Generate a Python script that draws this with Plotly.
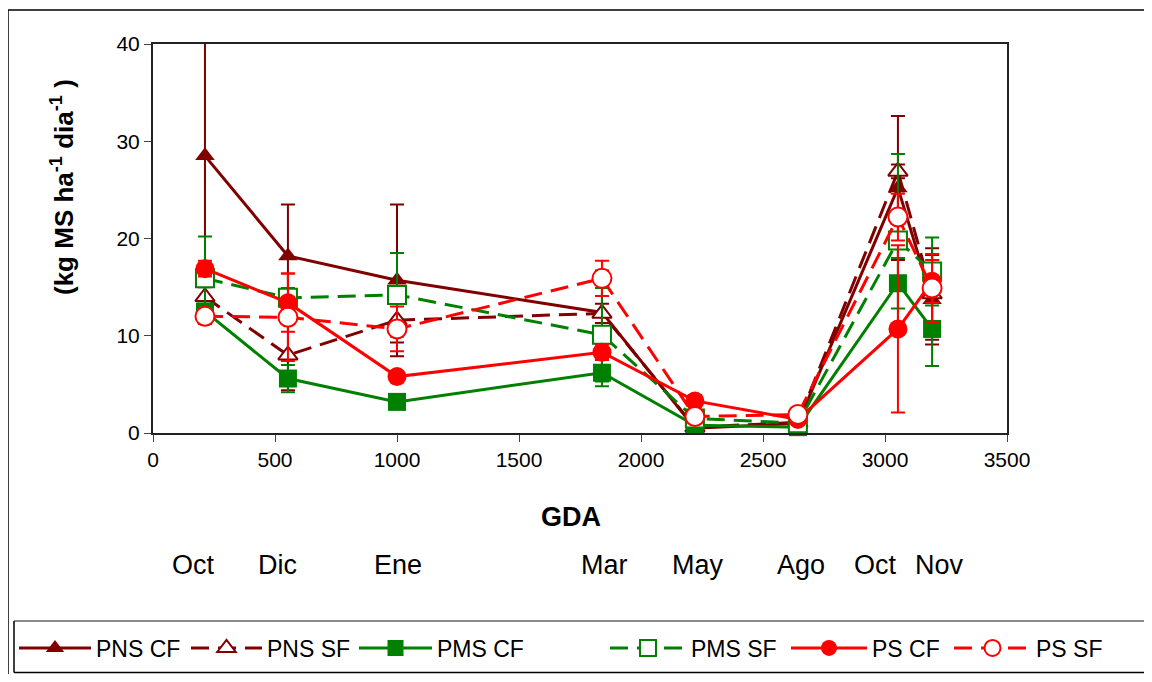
import plotly.graph_objects as go

# ---- data ----
gda = [213, 553, 1000, 1840, 2221, 2643, 3053, 3193]

series_names = ["PNS CF", "PNS SF", "PMS CF", "PMS SF", "PS CF", "PS SF"]
pns_cf = [28.5, 18.2, 15.7, 12.4, 0.5, 1.0, 25.2, 13.7]
pns_sf = [14.0, 8.0, 11.6, 12.3, 0.6, 1.1, 26.9, 14.3]
pms_cf = [12.5, 5.6, 3.2, 6.2, 0.8, 0.6, 15.4, 10.7]
pms_sf = [15.9, 13.9, 14.2, 10.1, 1.5, 1.0, 19.8, 16.6]
ps_cf = [16.9, 13.4, 5.8, 8.3, 3.3, 1.4, 10.7, 15.6]
ps_sf = [12.0, 11.9, 10.7, 15.9, 1.7, 1.9, 22.2, 14.9]

pns_cf_err = [12.1, 5.3, 7.8, 4.3, 0.5, 0.5, 7.4, 4.6]
pns_sf_err = [1.0, 3.6, 2.3, 1.0, 0.4, 0.4, 0.7, 4.7]
pms_cf_err = [0.8, 1.4, 0.4, 1.4, 0.4, 0.3, 2.6, 3.8]
pms_sf_err = [4.3, 1.0, 4.3, 4.8, 0.5, 0.4, 8.9, 3.5]
ps_cf_err = [0.8, 3.0, 0.5, 0.8, 0.6, 0.4, 8.6, 2.2]
ps_sf_err = [0.8, 4.5, 2.3, 1.8, 0.5, 0.4, 2.4, 3.5]

month_labels = ["Oct", "Dic", "Ene", "Mar", "May", "Ago", "Oct", "Nov"]
month_label_x = [164, 512, 1004, 1852, 2234, 2656, 2959, 3225]

x_ticks = [0, 500, 1000, 1500, 2000, 2500, 3000, 3500]
y_ticks = [0, 10, 20, 30, 40]

# ---- styles ----
DARK = "#800000"
GREEN = "#008000"
RED = "#FF0000"
DASH = "18px,9px"

styles = [
    (pns_cf, pns_cf_err, DARK, "solid", "triangle-up", True),
    (pns_sf, pns_sf_err, DARK, DASH, "triangle-up", False),
    (pms_cf, pms_cf_err, GREEN, "solid", "square", True),
    (pms_sf, pms_sf_err, GREEN, DASH, "square", False),
    (ps_cf, ps_cf_err, RED, "solid", "circle", True),
    (ps_sf, ps_sf_err, RED, DASH, "circle", False),
]
marker_sizes = {"triangle-up": 17, "square": 18, "circle": 19}

# legend entry layout (pixel start of each entry and symbol width)
legend_starts = [20, 192, 360, 611, 792, 955]
legend_itemwidths = [72, 71, 73, 76, 76, 77]

legend_ids = ["legend", "legend2", "legend3", "legend4", "legend5", "legend6"]

fig = go.Figure()
for i, (name, (vals, errs, col, dash, sym, filled)) in enumerate(zip(series_names, styles)):
    fig.add_trace(go.Scatter(
        x=gda, y=vals, name=name, mode="lines+markers",
        legend=legend_ids[i],
        line=dict(color=col, width=3, dash=dash),
        marker=dict(symbol=sym, size=marker_sizes[sym],
                    color=col if filled else "white",
                    line=dict(color=col, width=0 if filled else 2)),
        error_y=dict(type="data", array=errs, visible=True,
                     color=col, thickness=2, width=7),
        cliponaxis=False,
    ))

# page body adds an 8px margin on every side; compensate so pixel positions match
OFF = 8
W, H = 1152 - 2 * OFF, 682 - 2 * OFF
L, R, T, B = 153 - OFF, 1007 - OFF, 44 - OFF, 433 - OFF


def px(xp):
    return (xp - OFF - L) / (R - L)


def py(yp):
    return (B - (yp - OFF)) / (B - T)


annotations = [
    dict(text="<b>GDA</b>", x=px(571), y=py(517), xref="paper", yref="paper",
         showarrow=False, font=dict(size=27, family="Liberation Sans Narrow, Arial", color="black"),
         xanchor="center", yanchor="middle"),
    dict(text="<b>(kg MS ha<sup>-1</sup> dia<sup>-1</sup> )</b>", x=px(62), y=py(187),
         xref="paper", yref="paper", showarrow=False, textangle=-90,
         font=dict(size=26, family="Liberation Sans, Arial", color="black"),
         xanchor="center", yanchor="middle"),
]
for lab, lx in zip(month_labels, month_label_x):
    annotations.append(dict(text=lab, x=lx, y=py(565), xref="x", yref="paper",
                            showarrow=False, xanchor="center", yanchor="middle",
                            font=dict(size=27, family="Liberation Sans Narrow, Arial", color="black")))

legend_layout = {}
for lid, start, iw in zip(legend_ids, legend_starts, legend_itemwidths):
    legend_layout[lid] = dict(
        orientation="h", x=px(start - 6), y=py(648), xanchor="left", yanchor="middle",
        borderwidth=0, bgcolor="rgba(0,0,0,0)",
        font=dict(size=23, family="Liberation Sans, Arial", color="black"),
        itemwidth=iw, tracegroupgap=0)

line_style = dict(color="black", width=1.5)
fig.update_layout(
    width=W, height=H,
    margin=dict(l=L, r=W - R, t=T, b=H - B, pad=0, autoexpand=False),
    paper_bgcolor="white", plot_bgcolor="white",
    font=dict(family="Liberation Sans, Arial", color="black"),
    showlegend=True,
    annotations=annotations,
    shapes=[
        # outer chart frame (top and left edges visible)
        dict(type="line", xref="paper", yref="paper", x0=px(8), x1=px(1200),
             y0=py(10), y1=py(10), line=line_style, layer="below"),
        dict(type="line", xref="paper", yref="paper", x0=px(8), x1=px(8),
             y0=py(10), y1=py(720), line=line_style, layer="below"),
        # legend box (extends beyond the right edge)
        dict(type="line", xref="paper", yref="paper", x0=px(14), x1=px(1200),
             y0=py(621), y1=py(621), line=dict(color="#666", width=1.5), layer="below"),
        dict(type="line", xref="paper", yref="paper", x0=px(14), x1=px(1200),
             y0=py(672.5), y1=py(672.5), line=line_style, layer="below"),
        dict(type="line", xref="paper", yref="paper", x0=px(14), x1=px(14),
             y0=py(621), y1=py(672.5), line=line_style, layer="below"),
    ],
    xaxis=dict(range=[0, 3500], tickvals=x_ticks, ticks="outside", ticklen=7,
               showline=True, linecolor="#222", linewidth=2, mirror=True,
               showgrid=False, zeroline=False,
               tickfont=dict(size=21, family="Liberation Sans Narrow, Arial", color="black")),
    yaxis=dict(range=[0, 40], tickvals=y_ticks, ticks="outside", ticklen=7,
               showline=True, linecolor="#222", linewidth=2, mirror=True,
               showgrid=False, zeroline=False,
               tickfont=dict(size=21, family="Liberation Sans, Arial", color="black")),
    **legend_layout,
)

fig.write_html("out.html")
